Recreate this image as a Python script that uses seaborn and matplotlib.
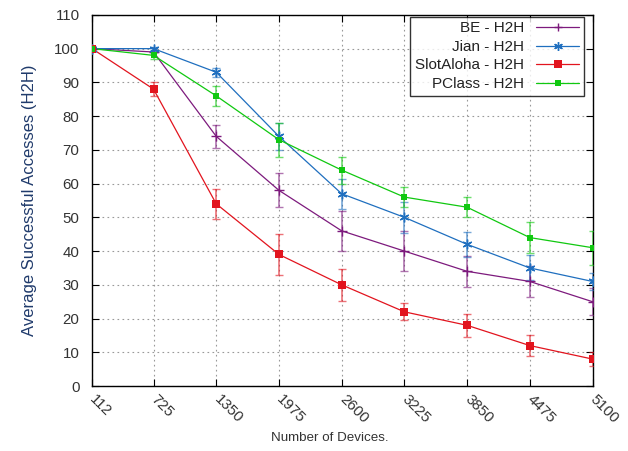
import numpy as np
import pandas as pd
import matplotlib
matplotlib.use("Agg")
import matplotlib.pyplot as plt
import seaborn as sns

devices = [112, 725, 1350, 1975, 2600, 3225, 3850, 4475, 5100]
be = [100, 99, 74, 58, 46, 40, 34, 31, 25]
be_err = [0, 0, 3.5, 5, 6, 6, 4.6, 4.5, 4]
jian = [100, 100, 93, 74, 57, 50, 42, 35, 31]
jian_err = [0, 0.5, 1.3, 4, 4.5, 4.5, 3.7, 3.7, 2.5]
slot = [100, 88, 54, 39, 30, 22, 18, 12, 8]
slot_err = [0, 2, 4.5, 6, 4.8, 2.5, 3.5, 3, 2]
pclass = [100, 98, 86, 73, 64, 56, 53, 44, 41]
pclass_err = [0, 1, 3, 5, 4, 3, 3, 4.5, 5]
series_names = ["BE - H2H", "Jian - H2H", "SlotAloha - H2H", "PClass - H2H"]

sns.set_style("white")
plt.rcParams['font.family'] = ['Liberation Sans', 'DejaVu Sans']

fig = plt.figure(figsize=(6.28, 4.51), dpi=100)
ax = fig.add_axes([0.1465, 0.144, 0.797, 0.823])

styles = [
    dict(color="#7d1a7d", marker="+", ms=7, mew=1.0),
    dict(color="#1f6fbf", marker=(6, 2, 0), ms=7, mew=1.0),
    dict(color="#e2141e", marker="s", ms=6, mew=0),
    dict(color="#10c810", marker="s", ms=4.5, mew=0),
]
vals = [be, jian, slot, pclass]
errs = [be_err, jian_err, slot_err, pclass_err]

rows = []
for name, v in zip(series_names, vals):
    for d, y in zip(devices, v):
        rows.append(dict(devices=d, value=y, series=name))
df = pd.DataFrame(rows)

palette = {n: s["color"] for n, s in zip(series_names, styles)}
sns.lineplot(data=df, x="devices", y="value", hue="series", palette=palette,
             linewidth=0.9, ax=ax, legend=False, errorbar=None)

handles = []
for name, v, e, st in zip(series_names, vals, errs, styles):
    ax.errorbar(devices, v, yerr=e, fmt="none", ecolor=st["color"], alpha=0.6,
                elinewidth=1.2, capsize=3, capthick=1.0, zorder=3)
    ax.plot(devices, v, linestyle="none", marker=st["marker"], ms=st["ms"],
            mew=st["mew"], color=st["color"], mec=st["color"], zorder=4)
    h, = ax.plot([], [], color=st["color"], lw=0.9, marker=st["marker"],
                 ms=st["ms"] * 0.9, mew=st["mew"], mec=st["color"])
    handles.append(h)

ax.set_xlim(112, 5100)
ax.set_ylim(0, 110)
ax.set_xticks(devices)
ax.set_xticklabels([str(d) for d in devices], rotation=-45, rotation_mode="anchor",
                   ha="left", va="center", fontsize=10.8, color="#333333")
ax.set_yticks(range(0, 111, 10))
ax.tick_params(axis="y", labelsize=10.8, labelcolor="#333333", pad=9)
ax.tick_params(axis="both", direction="in", length=5, width=0.8, color="black",
               top=True, right=True, bottom=True, left=True)
ax.tick_params(axis="x", pad=8)
ax.grid(True, linestyle=(0, (1.5, 3)), color="#999999", linewidth=0.8)
for sp in ax.spines.values():
    sp.set_color("black")
    sp.set_linewidth(1.0)

ax.set_xlabel("Number of Devices.", fontsize=9.6, color="#333333", labelpad=5)
ax.xaxis.set_label_coords(0.476, -0.125)
ax.set_ylabel("Average Successful Accesses (H2H)", fontsize=12, color="#1f3a6b", labelpad=12)

leg = ax.legend(handles, series_names, loc="upper right", markerfirst=False,
                fontsize=11, frameon=True, fancybox=False, edgecolor="black",
                handlelength=2.8, borderpad=0.3, labelspacing=0.3,
                borderaxespad=0, bbox_to_anchor=(0.982, 0.995))
leg.get_frame().set_linewidth(1.0)
for t in leg.get_texts():
    t.set_ha("right")
    t.set_color("#222222")
for vp in leg._legend_box.get_children()[1].get_children():
    vp.align = "right"

fig.savefig("out.png", dpi=100)
